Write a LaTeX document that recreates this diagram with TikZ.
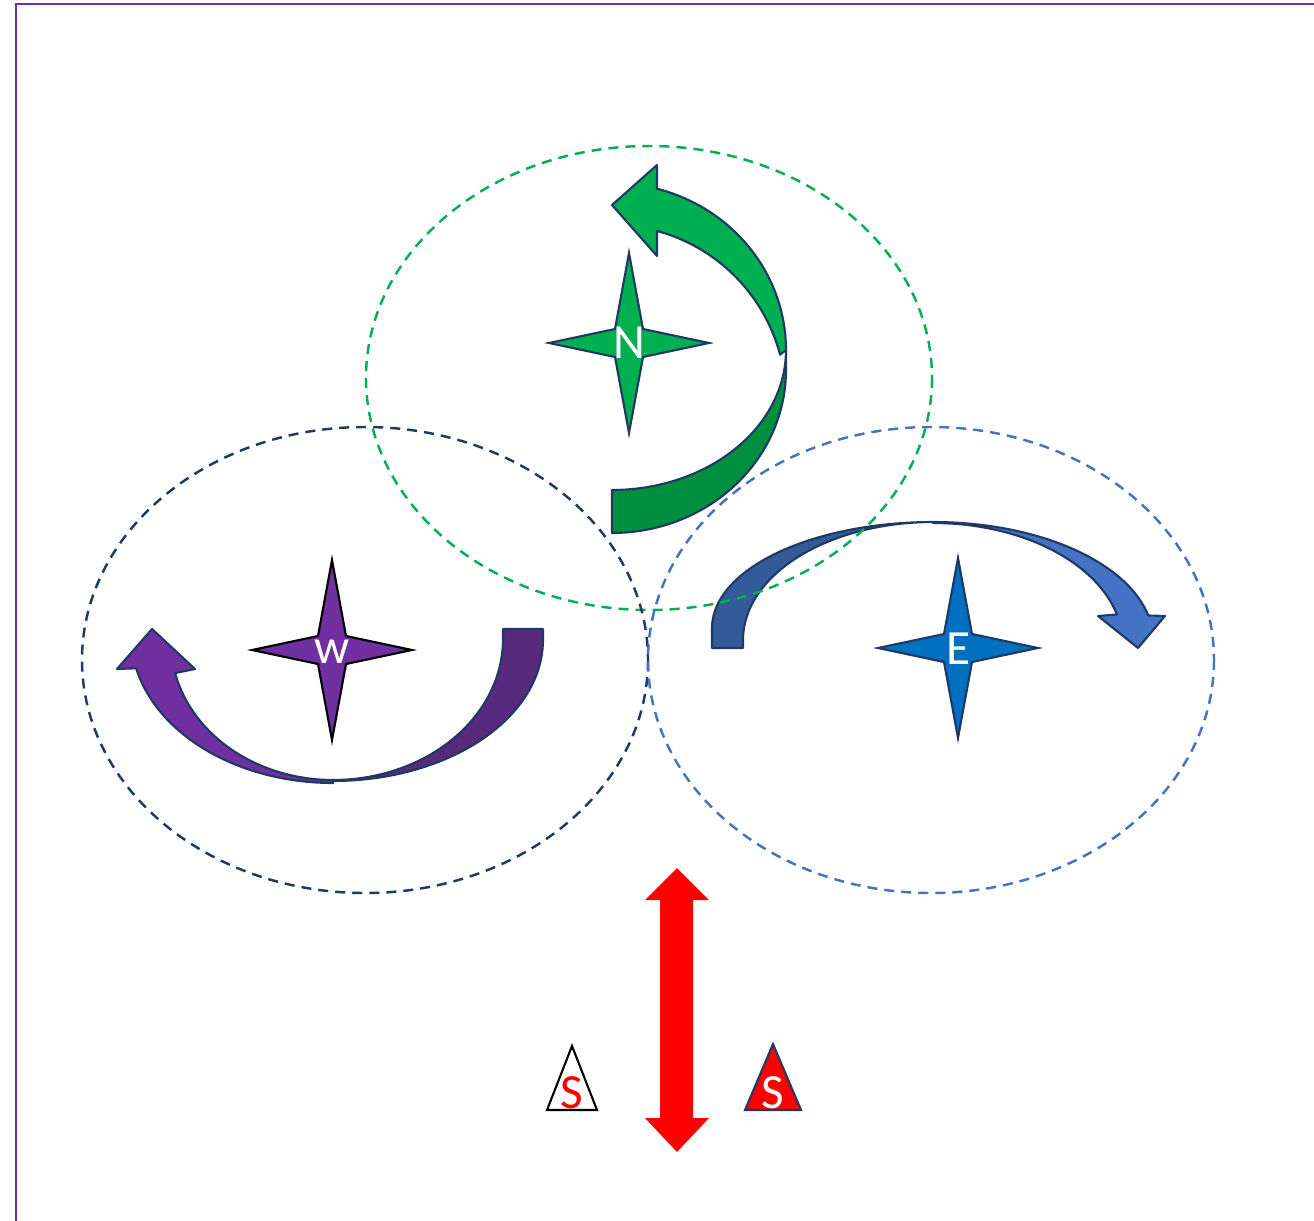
\documentclass[tikz,border=0pt]{standalone}
\usepackage{fontspec}
\setmainfont{Carlito}
\definecolor{frameViolet}{HTML}{7030A0}
\definecolor{nGreen}{HTML}{00B050}
\definecolor{nGreenDk}{HTML}{008F3E}
\definecolor{wPurple}{HTML}{7030A0}
\definecolor{wPurpleDk}{HTML}{582A7E}
\definecolor{eBlue}{HTML}{0070C0}
\definecolor{eBlueLt}{HTML}{4472C4}
\definecolor{eBlueDk}{HTML}{335A99}
\definecolor{navy}{HTML}{1F3864}
\begin{document}
\begin{tikzpicture}[x=0.02cm, y=-0.02cm, font=\fontsize{28}{32}\selectfont,
  ring/.style={dash pattern=on 5.7pt off 4pt, line width=1.4pt},
  band/.style={draw=navy, line width=1.2pt, line join=round},
  lbl/.style={inner sep=0pt, text=white},
  compass/.pic={\path[pic actions] (0,-90) -- (14,-14) -- (80,0) -- (14,14) -- (0,90)
     -- (-14,14) -- (-80,0) -- (-14,-14) -- cycle;}]
  \useasboundingbox (0,0) rectangle (1314,1220);
  \draw[frameViolet, line width=1.2pt] (16,1230) -- (16,4) -- (1330,4);

  % north: curved arrow turning up and left
  \path[band, fill=nGreenDk] (612,533)
    -- plot[domain=90:0, samples=40, variable=\t] ({612+174*cos(\t)},{370+163*sin(\t)})
    -- (786,350)
    -- plot[domain=0:90, samples=40, variable=\t] ({612+174*cos(\t)},{350+140*sin(\t)})
    -- cycle;
  \path[band, fill=nGreen] (786,350)
    -- plot[domain=0:-75, samples=40, variable=\t] ({612+174*cos(\t)},{350+167*sin(\t)})
    -- (657,165) -- (612,205) -- (657,256) -- (657,232)
    -- plot[domain=-75:-15, samples=40, variable=\t] ({612+174*cos(\t)},{400+175*sin(\t)})
    -- cycle;
  \pic[fill=nGreen, draw=navy, line width=1.2pt] at (629,343) {compass};
  \node[lbl] (N) at (629,343) {N};

  % west: curved arrow under the star
  \path[band, fill=wPurpleDk] (543,629) -- (543,640)
    -- plot[domain=0:90, samples=40, variable=\t] ({333+210*cos(\t)},{640+141*sin(\t)})
    -- plot[domain=90:0, samples=40, variable=\t] ({333+170*cos(\t)},{639+141*sin(\t)})
    -- (503,629) -- cycle;
  \path[band, fill=wPurple] (333,781)
    -- plot[domain=90:167, samples=40, variable=\t] ({333+202*cos(\t)},{635+148*sin(\t)})
    -- (117,669) -- (152,629) -- (195,669)
    -- plot[domain=167:90, samples=40, variable=\t] ({333+162*cos(\t)},{642+138*sin(\t)})
    -- cycle;
  \pic[fill=wPurple, draw=black, line width=1.2pt] at (332,650) {compass};
  \node[lbl] (W) at (332,652) {w};

  % east: curved arrow over the star
  \path[band, fill=eBlueDk] (712,648) -- (712,628)
    -- plot[domain=180:270, samples=40, variable=\t] ({933+221*cos(\t)},{628+106*sin(\t)})
    -- plot[domain=270:180, samples=40, variable=\t] ({933+190*cos(\t)},{640+118*sin(\t)})
    -- (743,648) -- cycle;
  \path[band, fill=eBlueLt] (933,522)
    -- plot[domain=270:348, samples=40, variable=\t] ({933+220*cos(\t)},{640+118*sin(\t)})
    -- (1165,616) -- (1138,648) -- (1098,616)
    -- plot[domain=345.5:270, samples=40, variable=\t] ({933+190*cos(\t)},{645+122*sin(\t)})
    -- cycle;
  \pic[fill=eBlue, draw=navy, line width=1.2pt] at (958,648) {compass};
  \node[lbl] (E) at (958,649) {E};

  % dashed rings
  \draw[ring, nGreen] (649,378) ellipse [x radius=283, y radius=232];
  \draw[ring, navy] (365,660) ellipse [x radius=283, y radius=233];
  \draw[ring, eBlueLt] (931,660) ellipse [x radius=283, y radius=233];

  % south
  \fill[red] (677,868) -- (709,900) -- (693,900) -- (693,1118) -- (709,1118) -- (677,1152)
    -- (645,1118) -- (660,1118) -- (660,900) -- (645,900) -- cycle;
  \draw[line width=1.2pt, fill=white] (572,1046) -- (597,1110) -- (547,1110) -- cycle;
  \node[inner sep=0pt, text=red] (SL) at (572,1093) {S};
  \draw[line width=1.2pt, draw=navy, fill=red] (773,1044) -- (801,1110) -- (745,1110) -- cycle;
  \node[lbl] (SR) at (773,1093) {S};
\end{tikzpicture}
\end{document}
